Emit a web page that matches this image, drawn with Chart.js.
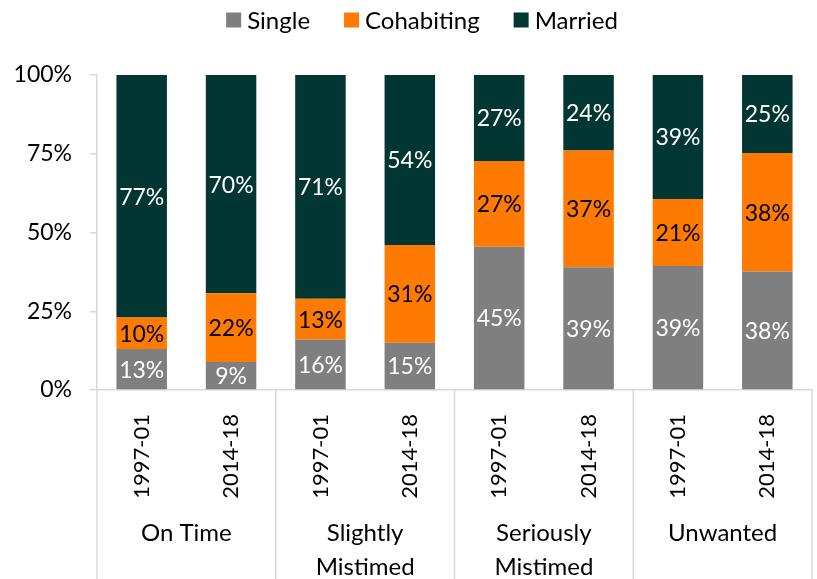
<!DOCTYPE html>
<html>
<head>
<meta charset="utf-8">
<script src="https://cdn.jsdelivr.net/npm/chart.js@4.4.1/dist/chart.umd.min.js"></script>
<style>
  html, body { margin: 0; padding: 0; background: #fff; }
  #wrap { width: 817px; height: 579px; position: relative; }
</style>
</head>
<body>
<div id="wrap"><canvas id="chart"></canvas></div>
<script>
// ----- data -----
const periods = ["1997-01", "2014-18", "1997-01", "2014-18", "1997-01", "2014-18", "1997-01", "2014-18"];
const groups = [["On Time"], ["Slightly", "Mistimed"], ["Seriously", "Mistimed"], ["Unwanted"]];
const single = [13, 9, 16, 15, 45, 39, 39, 38];
const cohabiting = [10, 22, 13, 31, 27, 37, 21, 38];
const married = [77, 70, 71, 54, 27, 24, 39, 25];
const yTicks = [0, 25, 50, 75, 100];

const FONT = "Lato, 'Open Sans', sans-serif";
const GRAY = "#7f7f7f";
const ORANGE = "#ff7a00";
const DARK = "#013633";
const AXIS = "#d9d9d9";

// bars are drawn as share of the bar total (100% stacked)
const totals = single.map((v, i) => v + cohabiting[i] + married[i]);
const share = (arr) => arr.map((v, i) => v / totals[i] * 100);

const series = [
  { label: "Single", values: single, color: GRAY, text: "#fff" },
  { label: "Cohabiting", values: cohabiting, color: ORANGE, text: "#000" },
  { label: "Married", values: married, color: DARK, text: "#fff" },
];

// ----- plugins -----
const segmentLabels = {
  id: "segmentLabels",
  afterDatasetsDraw(chart) {
    const ctx = chart.ctx;
    ctx.save();
    ctx.font = "23px " + FONT;
    ctx.textAlign = "center";
    ctx.textBaseline = "middle";
    chart.data.datasets.forEach((ds, di) => {
      const meta = chart.getDatasetMeta(di);
      meta.data.forEach((bar, i) => {
        ctx.fillStyle = series[di].text;
        ctx.fillText(series[di].values[i] + "%", bar.x, (bar.y + bar.base) / 2 + 1);
      });
    });
    ctx.restore();
  },
};

const groupAxis = {
  id: "groupAxis",
  afterDraw(chart) {
    const ctx = chart.ctx;
    const x = chart.scales.x;
    const bottom = chart.chartArea.bottom;
    const step = x.getPixelForValue(1) - x.getPixelForValue(0);
    ctx.save();
    ctx.strokeStyle = AXIS;
    ctx.lineWidth = 1.5;
    // left axis continues down through the label area
    ctx.beginPath();
    ctx.moveTo(chart.chartArea.left, bottom);
    ctx.lineTo(chart.chartArea.left, chart.height);
    ctx.stroke();
    groups.forEach((g, gi) => {
      const right = x.getPixelForValue(gi * 2 + 1) + step / 2;
      ctx.beginPath();
      ctx.moveTo(right, bottom);
      ctx.lineTo(right, chart.height);
      ctx.stroke();
      const cx = (x.getPixelForValue(gi * 2) + x.getPixelForValue(gi * 2 + 1)) / 2;
      ctx.fillStyle = "#000";
      ctx.font = "24px " + FONT;
      ctx.textAlign = "center";
      ctx.textBaseline = "middle";
      g.forEach((line, li) => ctx.fillText(line, cx, 533 + li * 34));
    });
    ctx.restore();
  },
};

const topLegend = {
  id: "topLegend",
  afterDraw(chart) {
    const ctx = chart.ctx;
    ctx.save();
    ctx.font = "24px " + FONT;
    ctx.textBaseline = "middle";
    const box = 15, gapText = 6, gapItem = 34;
    const widths = series.map(s => box + gapText + ctx.measureText(s.label).width);
    const total = widths.reduce((a, b) => a + b, 0) + gapItem * (series.length - 1);
    let x = 422 - total / 2;
    const cy = 20;
    series.forEach((s, i) => {
      ctx.fillStyle = s.color;
      ctx.fillRect(x, cy - box / 2, box, box);
      ctx.fillStyle = "#000";
      ctx.fillText(s.label, x + box + gapText, cy + 1);
      x += widths[i] + gapItem;
    });
    ctx.restore();
  },
};

// ----- chart -----
new Chart(document.getElementById("chart"), {
  type: "bar",
  data: {
    labels: periods,
    datasets: series.map(s => ({
      label: s.label,
      data: share(s.values),
      backgroundColor: s.color,
      borderWidth: 0,
      barPercentage: 0.565,
      categoryPercentage: 1,
    })),
  },
  options: {
    responsive: true,
    maintainAspectRatio: false,
    animation: false,
    layout: { padding: { top: 75, right: 5, left: 0, bottom: 0 } },
    plugins: {
      legend: { display: false },
      tooltip: { enabled: false },
    },
    scales: {
      x: {
        stacked: true,
        grid: { display: false },
        border: { color: AXIS, width: 1.5 },
        ticks: {
          color: "#000",
          font: { family: FONT, size: 22 },
          minRotation: 90,
          maxRotation: 90,
          padding: 16,
        },
        afterFit: (s) => { s.height = 189; },
      },
      y: {
        stacked: true,
        min: 0,
        max: 100,
        afterBuildTicks: (s) => { s.ticks = yTicks.map(v => ({ value: v })); },
        grid: { drawOnChartArea: false, color: AXIS, tickLength: 7, lineWidth: 1.5 },
        border: { color: AXIS, width: 1.5 },
        ticks: {
          color: "#000",
          font: { family: FONT, size: 23 },
          padding: 18,
          callback: (v) => v + "%",
        },
        afterFit: (s) => { s.width = 97; },
      },
    },
  },
  plugins: [segmentLabels, groupAxis, topLegend],
});
</script>
</body>
</html>
